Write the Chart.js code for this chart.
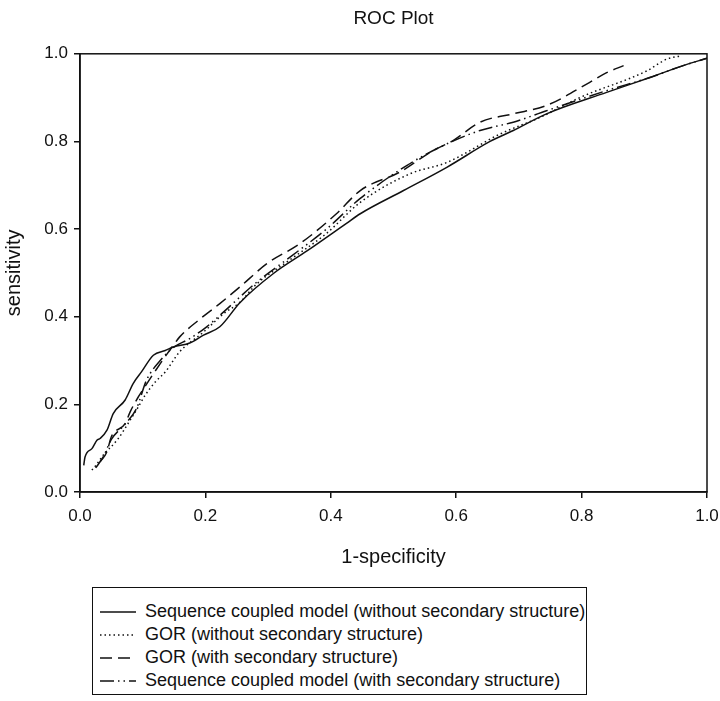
<!DOCTYPE html>
<html>
<head>
<meta charset="utf-8">
<script src="https://cdn.jsdelivr.net/npm/chart.js@4.4.0/dist/chart.umd.min.js"></script>
<style>
    html, body { margin: 0; padding: 0; background: #fff; }
    #wrap { position: relative; width: 720px; height: 701px; }
    #chartBox { position: absolute; left: 0; top: 0; width: 720px; height: 570px; }
    #legend {
        position: absolute; left: 92px; top: 587px; width: 495px; height: 108px;
        border: 1.5px solid #111;
        font-family: 'Liberation Sans', Arial, sans-serif; font-size: 18px; color: #111;
        padding-top: 12px; box-sizing: border-box;
    }
    .row { display: flex; align-items: center; height: 23px; }
    .row svg { margin-left: 7px; margin-right: 9px; flex: none; }
</style>
</head>
<body>
<div id="wrap">
    <div id="chartBox"><canvas id="roc"></canvas></div>
    <div id="legend"></div>
</div>
<script>
// valores
const seriesLabels = [
    'Sequence coupled model (without secondary structure)',
    'GOR (without secondary structure)',
    'GOR (with secondary structure)',
    'Sequence coupled model (with secondary structure)'
];

const scmWithoutX = [0.006, 0.008, 0.019, 0.027, 0.032, 0.043, 0.053, 0.072, 0.085, 0.098, 0.117, 0.136, 0.149, 0.175, 0.197, 0.223, 0.255, 0.308, 0.362, 0.425, 0.447, 0.516, 0.585, 0.654, 0.691, 0.744, 0.84, 0.909, 0.962, 1.0];
const scmWithoutY = [0.061, 0.08, 0.099, 0.118, 0.122, 0.141, 0.179, 0.21, 0.248, 0.274, 0.312, 0.323, 0.331, 0.34, 0.358, 0.377, 0.432, 0.498, 0.55, 0.613, 0.635, 0.688, 0.741, 0.8, 0.825, 0.863, 0.912, 0.946, 0.973, 0.99];

const gorWithoutX = [0.019, 0.025, 0.037, 0.06, 0.08, 0.09, 0.104, 0.12, 0.136, 0.159, 0.197, 0.229, 0.255, 0.282, 0.335, 0.393, 0.447, 0.526, 0.585, 0.67, 0.734, 0.797, 0.904, 0.936, 0.957];
const gorWithoutY = [0.05, 0.06, 0.084, 0.12, 0.164, 0.187, 0.221, 0.251, 0.274, 0.32, 0.365, 0.407, 0.433, 0.475, 0.53, 0.59, 0.661, 0.726, 0.752, 0.817, 0.855, 0.9, 0.961, 0.988, 0.995];

const gorWithX = [0.032, 0.043, 0.05, 0.072, 0.08, 0.093, 0.101, 0.128, 0.149, 0.159, 0.189, 0.223, 0.255, 0.298, 0.351, 0.409, 0.447, 0.51, 0.563, 0.595, 0.638, 0.691, 0.744, 0.813, 0.84, 0.867];
const gorWithY = [0.069, 0.092, 0.126, 0.156, 0.183, 0.217, 0.235, 0.293, 0.335, 0.354, 0.392, 0.43, 0.468, 0.521, 0.567, 0.635, 0.688, 0.73, 0.779, 0.802, 0.844, 0.863, 0.882, 0.935, 0.957, 0.973];

const scmWithX = [0.025, 0.037, 0.05, 0.072, 0.09, 0.106, 0.128, 0.149, 0.175, 0.202, 0.226, 0.282, 0.335, 0.393, 0.447, 0.521, 0.574, 0.638, 0.691, 0.744, 0.84, 0.909, 0.962, 1.0];
const scmWithY = [0.055, 0.08, 0.12, 0.155, 0.19, 0.255, 0.3, 0.33, 0.35, 0.377, 0.407, 0.479, 0.536, 0.6, 0.67, 0.745, 0.787, 0.825, 0.844, 0.87, 0.916, 0.946, 0.973, 0.99];

const tickValues = [0, 0.2, 0.4, 0.6, 0.8, 1.0];

const dashes = [[], [1.5, 3], [12, 6], [14, 4, 1.5, 4, 1.5, 4]];
const fontFamily = "'Liberation Sans', Arial, sans-serif";

function toPoints(xs, ys) {
    return xs.map((x, i) => ({ x: x, y: ys[i] }));
}

const allX = [scmWithoutX, gorWithoutX, gorWithX, scmWithX];
const allY = [scmWithoutY, gorWithoutY, gorWithY, scmWithY];

const datasets = seriesLabels.map((label, i) => ({
    label: label,
    data: toPoints(allX[i], allY[i]),
    showLine: true,
    borderColor: '#111',
    borderWidth: 1.5,
    borderDash: dashes[i],
    pointRadius: 0,
    cubicInterpolationMode: 'monotone',
    fill: false
}));

// moldura em volta da área do gráfico
const frame = {
    id: 'frame',
    afterDraw(chart) {
        const a = chart.chartArea;
        const c = chart.ctx;
        c.save();
        c.strokeStyle = '#111';
        c.lineWidth = 1.5;
        c.strokeRect(a.left, a.top, a.right - a.left, a.bottom - a.top);
        c.restore();
    }
};

const ctx = document.getElementById('roc').getContext('2d');
new Chart(ctx, {
    type: 'scatter',
    data: { datasets: datasets },
    plugins: [frame],
    options: {
        responsive: true,
        maintainAspectRatio: false,
        animation: false,
        layout: { padding: { top: 0, right: 13, bottom: 0, left: 0 } },
        plugins: {
            legend: { display: false },
            tooltip: { enabled: false },
            title: {
                display: true,
                text: 'ROC Plot',
                fullSize: false,
                color: '#111',
                font: { family: fontFamily, size: 19, weight: 'normal' },
                padding: { top: 7, bottom: 24 }
            }
        },
        scales: {
            x: {
                type: 'linear',
                min: 0, max: 1,
                afterFit(scale) {
                    scale.height = 78;
                    scale.paddingLeft = 0;
                    scale.paddingRight = 0;
                },
                afterBuildTicks(scale) { scale.ticks = tickValues.map(v => ({ value: v })); },
                grid: { drawOnChartArea: false, tickLength: 6, tickColor: '#111', lineWidth: 1.5 },
                border: { color: '#111', width: 1.5 },
                ticks: {
                    color: '#111', padding: 8,
                    font: { family: fontFamily, size: 17 },
                    callback: v => v.toFixed(1)
                },
                title: {
                    display: true, text: '1-specificity', color: '#111',
                    font: { family: fontFamily, size: 20 },
                    padding: { top: 0, bottom: 1 }
                }
            },
            y: {
                type: 'linear',
                min: 0, max: 1,
                afterFit(scale) { scale.width = 80; },
                afterBuildTicks(scale) { scale.ticks = tickValues.map(v => ({ value: v })); },
                grid: { drawOnChartArea: false, tickLength: 6, tickColor: '#111', lineWidth: 1.5 },
                border: { color: '#111', width: 1.5 },
                ticks: {
                    color: '#111', padding: 6,
                    font: { family: fontFamily, size: 17 },
                    callback: v => v.toFixed(1)
                },
                title: {
                    display: true, text: 'sensitivity', color: '#111',
                    font: { family: fontFamily, size: 20 },
                    padding: { top: 2, bottom: 0 }
                }
            }
        }
    }
});

// legenda em HTML
const legend = document.getElementById('legend');
seriesLabels.forEach((label, i) => {
    const row = document.createElement('div');
    row.className = 'row';
    const svgNS = 'http://www.w3.org/2000/svg';
    const svg = document.createElementNS(svgNS, 'svg');
    svg.setAttribute('width', '36');
    svg.setAttribute('height', '10');
    const line = document.createElementNS(svgNS, 'line');
    line.setAttribute('x1', '0'); line.setAttribute('y1', '5');
    line.setAttribute('x2', '36'); line.setAttribute('y2', '5');
    line.setAttribute('stroke', '#111');
    line.setAttribute('stroke-width', '1.5');
    if (dashes[i].length) line.setAttribute('stroke-dasharray', dashes[i].join(' '));
    svg.appendChild(line);
    const span = document.createElement('span');
    span.textContent = label;
    row.appendChild(svg);
    row.appendChild(span);
    legend.appendChild(row);
});
</script>
</body>
</html>
